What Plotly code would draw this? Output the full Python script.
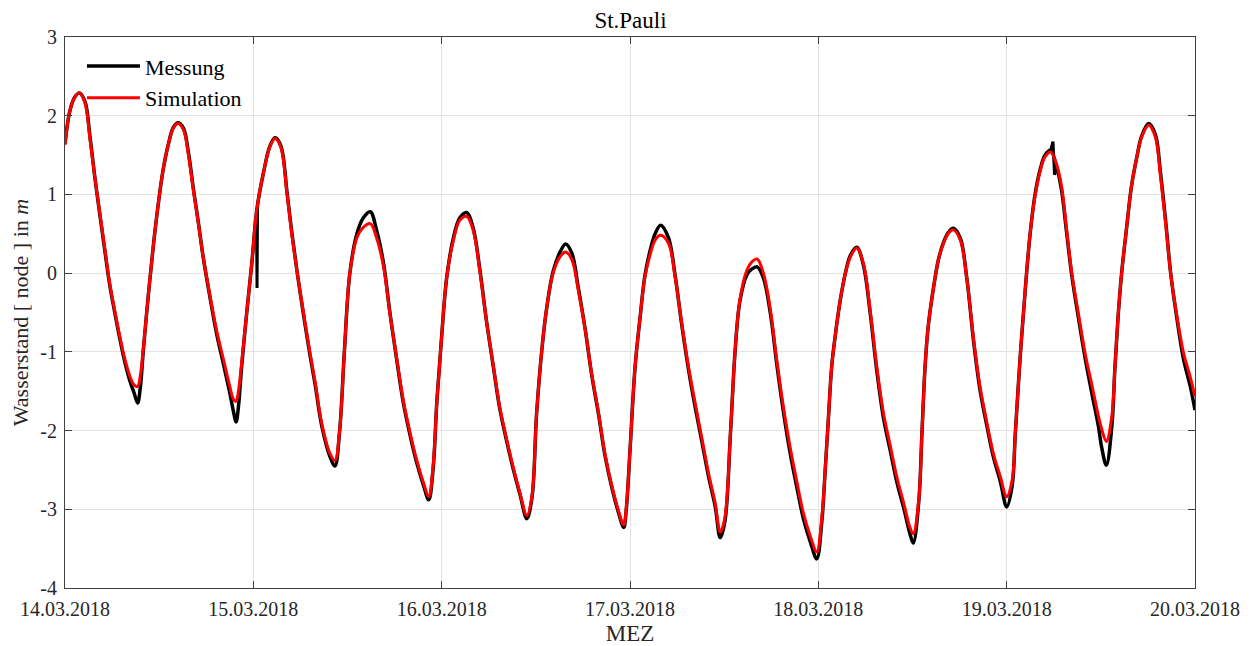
import pandas as pd
import plotly.graph_objects as go

# hours since 14.03.2018 00:00
hours = [0.0, 0.64, 1.27, 1.83, 2.55, 3.2, 3.8, 4.5, 5.1, 5.7, 6.4, 7.0, 7.65, 8.3, 8.8, 9.25, 9.6,
         10.0, 10.6, 11.25, 11.9, 12.5, 13.2, 13.8, 14.4, 15.1, 15.7, 16.35, 17.0, 17.6, 18.5, 19.3,
         20.2, 21.0, 21.45, 21.8, 22.1, 22.5, 23.15, 23.8, 24.44, 25.28, 26.13, 26.77, 27.5, 28.3,
         28.9, 29.6, 30.4, 31.2, 31.9, 32.7, 33.8, 34.4, 35.0, 35.6, 36.3, 37.2, 38.0, 38.9, 39.7,
         40.6, 41.4, 42.3, 43.1, 44.0, 44.8, 45.7, 46.35, 46.9, 47.4, 48.0, 48.65, 49.5, 50.3, 51.2,
         52.0, 52.9, 53.7, 54.6, 55.4, 56.3, 57.1, 58.0, 58.85, 59.5, 60.1, 60.8, 61.4, 62.2, 63.1,
         63.8, 64.6, 65.4, 66.3, 67.1, 68.0, 68.8, 69.7, 70.5, 71.2, 71.5, 72.0, 72.65, 73.3, 73.9,
         74.6, 75.2, 75.9, 76.9, 77.75, 78.6, 79.45, 80.3, 81.2, 82.0, 82.85, 83.5, 84.1, 84.8, 85.4,
         86.0, 86.9, 87.5, 88.2, 89.0, 89.9, 90.7, 91.55, 92.4, 93.3, 94.1, 95.0, 95.8, 96.45, 96.9,
         97.3, 97.7, 98.2, 98.8, 99.45, 100.1, 100.9, 101.75, 102.6, 103.45, 104.3, 105.2, 106.0,
         106.9, 107.7, 108.1, 108.8, 109.2, 109.6, 110.0, 110.7, 111.3, 111.95, 112.6, 113.2, 114.1,
         114.9, 115.8, 116.6, 117.5, 118.3, 119.2, 120.0, 120.7, 121.1, 121.7, 122.4, 123.0, 123.6,
         124.3, 124.9, 125.6, 126.3, 127.0, 127.6, 128.3, 129.2, 130.0, 130.9, 131.7, 132.1, 132.7,
         133.4, 133.8, 134.2, 134.65, 135.3, 135.9, 136.6, 137.2, 138.1, 138.95, 139.6, 140.3, 140.9,
         141.7, 142.55, 143.4, 144.0]

simulation = [1.63, 2.07, 2.24, 2.29, 2.16, 1.69, 1.22, 0.72, 0.29, -0.13, -0.51, -0.81, -1.1, -1.32, -1.42, -1.44, -1.3,
              -0.94, -0.3, 0.34, 0.89, 1.31, 1.65, 1.84, 1.90, 1.82, 1.52, 1.06, 0.63, 0.21, -0.3, -0.72,
              -1.1, -1.44, -1.6, -1.63, -1.5, -1.15, -0.51, 0.12, 0.8, 1.27, 1.61, 1.71, 1.6, 1.0,
              0.5, 0.0, -0.51, -1.0, -1.4, -1.9, -2.3, -2.38, -2.0, -1.0, 0.0, 0.45, 0.58, 0.63, 0.45,
              0.08, -0.51, -1.1, -1.61, -2.04, -2.37, -2.67, -2.84, -2.46, -1.61, -0.8, -0.05, 0.42, 0.67, 0.72,
              0.55, 0.0, -0.6, -1.19, -1.7, -2.12, -2.46, -2.80, -3.08, -2.84, -1.78, -0.94, -0.43, 0.0, 0.21,
              0.27, 0.17, -0.21, -0.72, -1.27, -1.78, -2.29, -2.71, -3.01, -3.2, -3.01, -2.25, -1.19, -0.55, -0.05,
              0.25, 0.42, 0.48, 0.38, -0.05, -0.64, -1.19, -1.65, -2.12, -2.54, -2.92, -3.29, -3.1, -2.04, -0.98,
              -0.34, 0.04, 0.14, 0.18, 0.0, -0.47, -1.1, -1.7, -2.21, -2.67, -3.05, -3.35, -3.54, -3.1, -2.46,
              -1.82, -1.19, -0.76, -0.34, 0.0, 0.21, 0.32, 0.12, -0.47, -1.19, -1.78, -2.21, -2.59,
              -2.93, -3.24, -3.31, -2.88, -2.04, -1.19, -0.68, -0.17, 0.17, 0.38, 0.51, 0.55, 0.42,
              -0.05, -0.85, -1.44, -1.91, -2.29, -2.59, -2.84, -2.63, -2.04, -1.1, -0.17, 0.51, 0.97,
              1.31, 1.48, 1.54, 1.4, 1.1, 0.59, 0.0, -0.55, -1.02, -1.44, -1.82, -1.98, -2.14,
              -1.82, -1.19, -0.55, 0.0, 0.59, 1.1, 1.48, 1.73, 1.88, 1.73, 1.23, 0.59, 0.0,
              -0.55, -1.02, -1.32, -1.57]

messung = [1.65, 2.07, 2.24, 2.29, 2.18, 1.72, 1.22, 0.70, 0.27, -0.15, -0.53, -0.84, -1.14, -1.38, -1.52, -1.65, -1.45,
           -0.96, -0.3, 0.34, 0.89, 1.31, 1.65, 1.85, 1.91, 1.84, 1.55, 1.08, 0.64, 0.21, -0.32, -0.76,
           -1.16, -1.52, -1.75, -1.89, -1.7, -1.2, -0.51, 0.12, 0.8, 1.27, 1.62, 1.72, 1.62, 1.02,
           0.52, 0.0, -0.53, -1.03, -1.43, -1.93, -2.34, -2.45, -2.0, -1.0, 0.0, 0.5, 0.7, 0.78, 0.55,
           0.12, -0.5, -1.12, -1.64, -2.07, -2.4, -2.7, -2.88, -2.5, -1.61, -0.8, -0.05, 0.45, 0.7, 0.77,
           0.58, 0.02, -0.6, -1.2, -1.72, -2.14, -2.48, -2.82, -3.12, -2.86, -1.78, -0.94, -0.43, 0.02, 0.27,
           0.37, 0.25, -0.18, -0.72, -1.28, -1.8, -2.31, -2.73, -3.03, -3.23, -3.03, -2.25, -1.19, -0.55, -0.03,
           0.3, 0.5, 0.61, 0.45, -0.03, -0.66, -1.22, -1.7, -2.16, -2.58, -2.96, -3.36, -3.15, -2.04, -0.98,
           -0.36, -0.02, 0.05, 0.08, -0.06, -0.52, -1.15, -1.76, -2.28, -2.74, -3.12, -3.42, -3.63, -3.15, -2.46,
           -1.82, -1.19, -0.76, -0.34, 0.0, 0.23, 0.33, 0.1, -0.5, -1.24, -1.84, -2.27, -2.65,
           -2.99, -3.32, -3.43, -2.9, -2.04, -1.19, -0.68, -0.17, 0.17, 0.39, 0.52, 0.57, 0.44,
           -0.05, -0.88, -1.48, -1.95, -2.33, -2.65, -2.97, -2.7, -2.04, -1.1, -0.17, 0.51, 0.99,
           1.33, 1.5, 1.56, 1.38, 1.05, 0.55, -0.03, -0.6, -1.08, -1.55, -1.95, -2.21, -2.44,
           -1.95, -1.19, -0.55, 0.0, 0.59, 1.1, 1.48, 1.74, 1.9, 1.76, 1.28, 0.62, 0.0,
           -0.58, -1.1, -1.44, -1.74]

# short measurement glitches
spike1_hours = [24.40, 24.47, 24.54]
spike1_values = [0.78, -0.19, 0.9]
spike2_hours = [125.6, 125.9, 126.1, 126.35]
spike2_values = [1.56, 1.67, 1.25, 1.33]

tick_days = ["2018-03-14", "2018-03-15", "2018-03-16", "2018-03-17", "2018-03-18", "2018-03-19", "2018-03-20"]
tick_labels = ["14.03.2018", "15.03.2018", "16.03.2018", "17.03.2018", "18.03.2018", "19.03.2018", "20.03.2018"]
y_ticks = [-4, -3, -2, -1, 0, 1, 2, 3]

start = pd.Timestamp("2018-03-14 00:00")
def to_time(h):
    return start + pd.to_timedelta(h, unit="h")

FONT = "Liberation Serif, DejaVu Serif, serif"
fig = go.Figure()
fig.add_trace(go.Scatter(x=to_time(hours), y=messung, mode="lines", name="Messung",
                         line=dict(color="black", width=3.5, shape="spline", smoothing=1.0)))
fig.add_trace(go.Scatter(x=to_time(spike1_hours), y=spike1_values, mode="lines", showlegend=False,
                         line=dict(color="black", width=3)))
fig.add_trace(go.Scatter(x=to_time(spike2_hours), y=spike2_values, mode="lines", showlegend=False,
                         line=dict(color="black", width=3)))
fig.add_trace(go.Scatter(x=to_time(hours), y=simulation, mode="lines", name="Simulation",
                         line=dict(color="#ff0000", width=3, shape="spline", smoothing=1.0)))

axis_common = dict(showline=True, linecolor="#404040", linewidth=1, mirror="ticks",
                   ticks="inside", ticklen=7, tickcolor="#404040", automargin=False,
                   showgrid=True, gridcolor="#e3e3e3", gridwidth=1, zeroline=False,
                   tickfont=dict(family=FONT, size=20, color="#262626"))

fig.update_xaxes(range=[pd.Timestamp(tick_days[0]), pd.Timestamp(tick_days[-1])],
                 tickvals=[pd.Timestamp(d) for d in tick_days], ticktext=tick_labels,
                 ticklabelstandoff=3,
                 title=dict(text="MEZ", font=dict(family=FONT, size=23, color="#262626"), standoff=11),
                 **axis_common)
fig.update_yaxes(range=[-4, 3], tickvals=y_ticks, ticktext=[str(v) for v in y_ticks],
                 ticklabelstandoff=3,
                 title=dict(text="Wasserstand [ node ] in <i>m</i>", font=dict(family=FONT, size=22, color="#262626"), standoff=10),
                 **axis_common)

fig.update_layout(
    width=1245, height=638,
    margin=dict(l=57, r=58, t=29, b=58, autoexpand=False),
    paper_bgcolor="white", plot_bgcolor="white",
    title=dict(text="St.Pauli", x=0.5, xanchor="center", yref="container", y=0.981, yanchor="middle",
               font=dict(family=FONT, size=23, color="black")),
    legend=dict(x=0.015, y=0.985, xanchor="left", yanchor="top", bgcolor="rgba(0,0,0,0)",
                font=dict(family=FONT, size=22, color="black"), itemwidth=53, tracegroupgap=0),
    showlegend=True,
)

fig.write_html("out.html")
